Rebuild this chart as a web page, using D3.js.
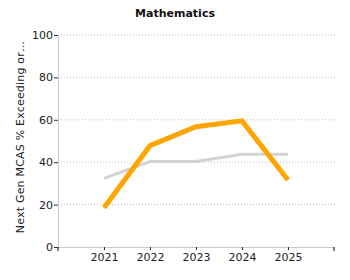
<!DOCTYPE html>
<html>
<head>
<meta charset="utf-8">
<script src="https://cdn.jsdelivr.net/npm/d3@7"></script>
<style>
  body { margin: 0; background: #fff; }
  text { font-family: Verdana, "DejaVu Sans", sans-serif; }
</style>
</head>
<body>
<svg id="chart"></svg>
<script>
const years = ['2021', '2022', '2023', '2024', '2025'];
const schoolValues = [18.5, 47.8, 56.7, 59.5, 31.6];
const stateValues = [32.4, 40.3, 40.3, 43.7, 43.7];
const yTicks = [0, 20, 40, 60, 80, 100];

const width = 350;
const height = 280;
const margin = { top: 35, right: 15, bottom: 33, left: 58 };

const svg = d3.select('#chart')
  .attr('width', width)
  .attr('height', height);

// slots with an empty one on each side, like the original
const xScale = d3.scalePoint()
  .domain(['', ...years, ' '])
  .range([margin.left, width - margin.right - 1]);

const yScale = d3.scaleLinear()
  .domain([0, 100])
  .range([height - margin.bottom, margin.top]);

// gridlines
svg.append('g')
  .selectAll('line')
  .data(yTicks.filter(t => t > 0))
  .join('line')
  .attr('x1', margin.left)
  .attr('x2', width - margin.right)
  .attr('y1', d => yScale(d))
  .attr('y2', d => yScale(d))
  .attr('stroke', '#bbb')
  .attr('stroke-dasharray', '1,2');

const yAxis = svg.append('g')
  .attr('transform', `translate(${margin.left},0)`)
  .call(d3.axisLeft(yScale).tickValues(yTicks).tickSize(4).tickSizeOuter(0));
yAxis.select('.domain').attr('stroke', '#ccc');
yAxis.selectAll('.tick line').attr('stroke', '#333');
yAxis.selectAll('.tick text')
  .attr('font-size', 11)
  .attr('fill', '#222')
  .attr('x', -5);

const xAxis = svg.append('g')
  .attr('transform', `translate(0,${height - margin.bottom})`)
  .call(d3.axisBottom(xScale).tickValues(years).tickSize(3).tickSizeOuter(4));
xAxis.select('.domain').attr('stroke', '#ccc');
xAxis.selectAll('.tick line').attr('stroke', '#333');
xAxis.selectAll('.tick text')
  .attr('font-size', 11)
  .attr('fill', '#222')
  .attr('y', 6);

// outer end ticks
svg.append('g')
  .selectAll('line')
  .data([margin.left, width - margin.right - 1])
  .join('line')
  .attr('x1', d => d)
  .attr('x2', d => d)
  .attr('y1', height - margin.bottom)
  .attr('y2', height - margin.bottom + 4)
  .attr('stroke', '#111');

const line = d3.line()
  .x((d, i) => xScale(years[i]))
  .y(d => yScale(d));

svg.append('path')
  .datum(stateValues)
  .attr('d', line)
  .attr('fill', 'none')
  .attr('stroke', '#d3d3d3')
  .attr('stroke-width', 3);

svg.append('path')
  .datum(schoolValues)
  .attr('d', line)
  .attr('fill', 'none')
  .attr('stroke', '#ffa500')
  .attr('stroke-width', 5);

svg.append('text')
  .attr('x', 175)
  .attr('y', 17)
  .attr('text-anchor', 'middle')
  .attr('font-size', 11)
  .attr('font-weight', 'bold')
  .attr('fill', '#111')
  .text('Mathematics');

svg.append('text')
  .attr('transform', `translate(24,137) rotate(-90)`)
  .attr('text-anchor', 'middle')
  .attr('font-size', 11)
  .attr('fill', '#222')
  .attr('letter-spacing', 0.2)
  .text('Next Gen MCAS % Exceeding or…');
</script>
</body>
</html>
